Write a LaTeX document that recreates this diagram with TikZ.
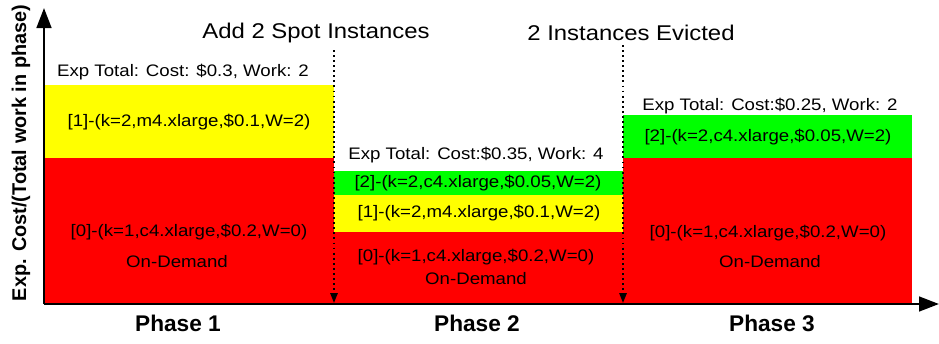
\documentclass[tikz,border=0pt]{standalone}
\usepackage{fontspec}
\setmainfont[FakeStretch=1.12]{Liberation Sans}
\newfontfamily\axisfont{Liberation Sans}
\usetikzlibrary{arrows.meta}
\definecolor{ondemand}{RGB}{255,0,0}
\definecolor{spotm}{RGB}{255,255,0}
\definecolor{spotc}{RGB}{0,255,0}
\tikzset{
 lbl/.style={inner sep=0pt},
 phaselbl/.style={inner sep=0pt,font=\axisfont\bfseries\fontsize{17}{19}\selectfont},
 eventlbl/.style={inner sep=0pt,font=\fontsize{16}{18}\selectfont},
 eventarrow/.style={line width=1.4pt,dash pattern=on 1.4pt off 2.4pt,-{Triangle[length=7.5pt,width=5.5pt]}},
 axisarrow/.style={line width=1.9pt,-{Triangle[length=15pt,width=11pt]}}
}
\begin{document}
\begin{tikzpicture}[x=.75pt,y=-.75pt,font=\fontsize{12.5}{14}\selectfont]
\useasboundingbox (0,0) rectangle (939,343);
\fill[ondemand] (44,158) rectangle (334,304);
\fill[spotm] (44,85) rectangle (334,158);
\fill[ondemand] (334,232) rectangle (623,304);
\fill[spotm] (334,195) rectangle (623,232);
\fill[spotc] (334,171) rectangle (623,195);
\fill[ondemand] (623,158) rectangle (912,304);
\fill[spotc] (623,115) rectangle (912,158);
\coordinate (origin) at (44,304);
\coordinate (ytop) at (44,8);
\coordinate (xend) at (939,304);
\draw[axisarrow] (origin) -- (ytop);
\draw[axisarrow] (origin) -- (xend);
\node[rotate=90,inner sep=0pt,font=\axisfont\bfseries\fontsize{14.9}{16}\selectfont] (ylabel) at (21,153) {Exp. Cost/(Total work in phase)};
\node[eventlbl] (addspot) at (316,33) {Add 2 Spot Instances};
\node[eventlbl] (evicted) at (631,33) {2 Instances Evicted};
\coordinate (addtop) at (334,50);
\coordinate (addbot) at (334,303);
\coordinate (evtop) at (623,45);
\coordinate (evbot) at (623,303);
\draw[eventarrow] (addtop) -- (addbot);
\draw[eventarrow] (evtop) -- (evbot);
\node[lbl] (totalA) at (183,72) {Exp Total: Cost: \$0.3, Work: 2};
\node[lbl] (mA) at (189,122) {[1]-(k=2,m4.xlarge,\$0.1,W=2)};
\node[lbl] (odA) at (189,232) {[0]-(k=1,c4.xlarge,\$0.2,W=0)};
\node[lbl] (odnameA) at (177,262) {On-Demand};
\node[lbl] (totalB) at (476,155) {Exp Total: Cost:\$0.35, Work: 4};
\node[lbl] (cB) at (478,183) {[2]-(k=2,c4.xlarge,\$0.05,W=2)};
\node[lbl] (mB) at (479,213) {[1]-(k=2,m4.xlarge,\$0.1,W=2)};
\node[lbl] (odB) at (476,257) {[0]-(k=1,c4.xlarge,\$0.2,W=0)};
\node[lbl] (odnameB) at (476,279) {On-Demand};
\node[lbl] (totalC) at (770,106) {Exp Total: Cost:\$0.25, Work: 2};
\node[lbl] (cC) at (768,137) {[2]-(k=2,c4.xlarge,\$0.05,W=2)};
\node[lbl] (odC) at (768,233) {[0]-(k=1,c4.xlarge,\$0.2,W=0)};
\node[lbl] (odnameC) at (770,262) {On-Demand};
\foreach \p/\x in {1/178,2/477,3/772}{
 \node[phaselbl] (phase\p) at (\x,323) {Phase \p};
}
\end{tikzpicture}
\end{document}
